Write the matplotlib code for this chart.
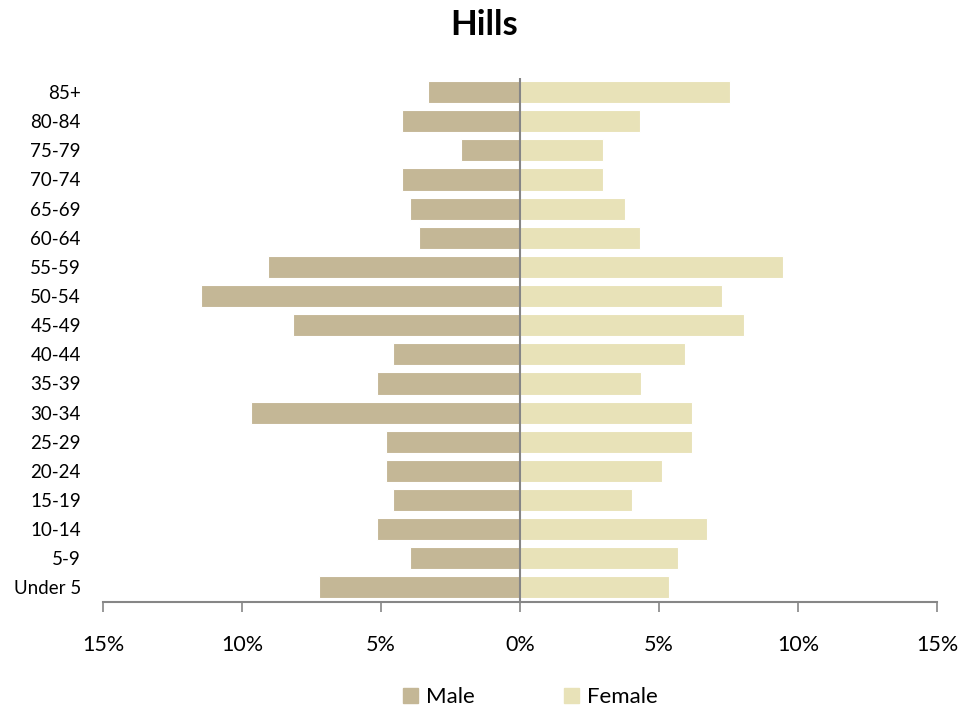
import matplotlib
matplotlib.use("Agg")
from matplotlib import pyplot as plt
from matplotlib.patches import Patch
from matplotlib.ticker import FuncFormatter

age_groups = ["Under 5", "5-9", "10-14", "15-19", "20-24", "25-29", "30-34",
              "35-39", "40-44", "45-49", "50-54", "55-59", "60-64", "65-69",
              "70-74", "75-79", "80-84", "85+"]
male = [7.24, 3.94, 5.14, 4.57, 4.81, 4.81, 9.67, 5.14, 4.57,
        8.17, 11.49, 9.06, 3.62, 3.94, 4.23, 2.14, 4.23, 3.31]
female = [5.36, 5.68, 6.71, 4.03, 5.12, 6.20, 6.20, 4.34, 5.93,
          8.06, 7.28, 9.46, 4.33, 3.78, 2.99, 2.99, 4.33, 7.55]
x_ticks = [-15, -10, -5, 0, 5, 10, 15]

male_color = "#C4B796"
female_color = "#E8E2B8"
axis_color = "#868686"

plt.rcParams["font.family"] = ["Lato", "DejaVu Sans"]

fig = plt.figure(figsize=(9.79, 7.13), dpi=100)
ax = fig.add_axes([0.1052, 0.1557, 0.852, 0.7356])

y = list(range(len(age_groups)))
ax.barh(y, [-v for v in male], height=0.76, color=male_color,
        edgecolor="white", linewidth=0.8, label="Male")
ax.barh(y, female, height=0.76, color=female_color,
        edgecolor="white", linewidth=0.8, label="Female")

ax.set_xlim(-15, 15)
ax.set_ylim(-0.5, len(age_groups) - 0.5)
ax.axvline(0, color=axis_color, linewidth=1.5)

ax.set_xticks(x_ticks)
ax.xaxis.set_major_formatter(FuncFormatter(lambda v, p: f"{abs(int(v))}%"))
ax.set_yticks(y)
ax.set_yticklabels(age_groups)

for side in ["top", "right", "left"]:
    ax.spines[side].set_visible(False)
ax.spines["bottom"].set_color(axis_color)
ax.spines["bottom"].set_linewidth(1.5)
ax.tick_params(axis="x", direction="out", length=7, width=1.2,
               color=axis_color, labelsize=15.5, pad=17)
ax.tick_params(axis="y", length=0, labelsize=13.5, pad=16)

fig.suptitle("Hills", x=0.495, y=0.965, fontsize=25, fontweight="bold",
             va="center")

handles = [Patch(color=male_color, label="Male"),
           Patch(color=female_color, label="Female")]
fig.legend(handles=handles, loc="center", ncol=2, frameon=False,
           fontsize=16, bbox_to_anchor=(0.542, 0.022), handlelength=0.65,
           handleheight=0.65, handletextpad=0.4, columnspacing=4.0)

fig.savefig("out.png", dpi=100)
